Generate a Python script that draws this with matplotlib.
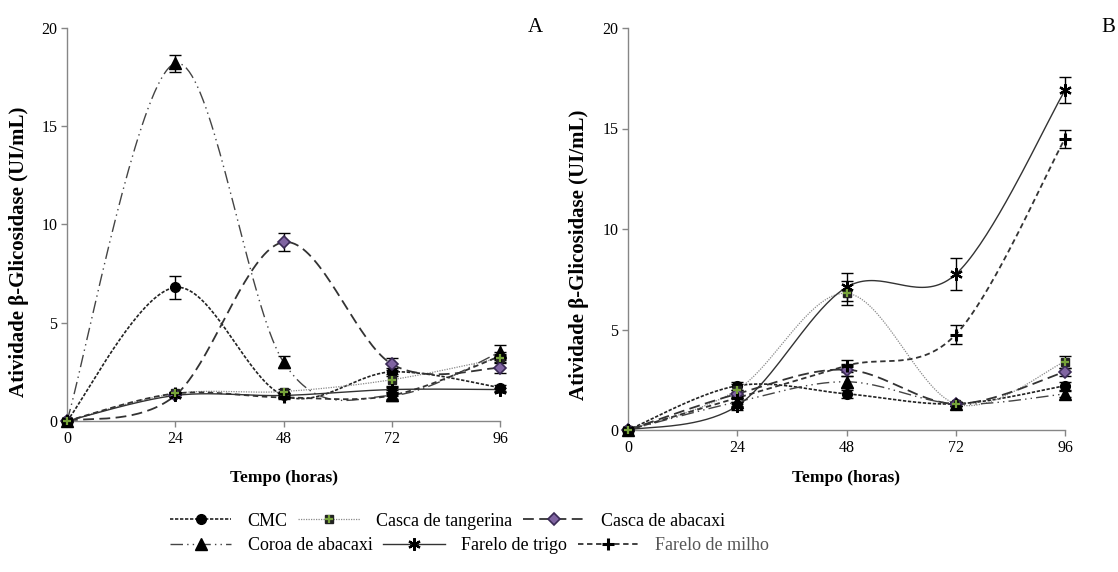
import numpy as np
import matplotlib
matplotlib.use("Agg")
import matplotlib.pyplot as plt
from matplotlib.lines import Line2D
from matplotlib.legend_handler import HandlerTuple

plt.rcParams["font.family"] = ["Liberation Serif", "DejaVu Serif"]

# DATA
hours = [0, 24, 48, 72, 96]
series_names = ["CMC", "Casca de tangerina", "Casca de abacaxi",
                "Coroa de abacaxi", "Farelo de trigo", "Farelo de milho"]

# panel A
a_cmc = [0.0, 6.8, 1.3, 2.5, 1.7]
a_tang = [0.0, 1.4, 1.5, 2.1, 3.2]
a_abac = [0.0, 1.3, 9.1, 2.9, 2.7]
a_coroa = [0.0, 18.2, 3.0, 1.3, 3.5]
a_trigo = [0.0, 1.3, 1.3, 1.6, 1.6]
a_milho = [0.0, 1.4, 1.2, 1.3, 3.3]

a_cmc_err = [0.0, 0.6, 0.15, 0.2, 0.15]
a_tang_err = [0.0, 0.1, 0.15, 0.3, 0.2]
a_abac_err = [0.0, 0.1, 0.45, 0.3, 0.25]
a_coroa_err = [0.0, 0.45, 0.3, 0.2, 0.35]
a_trigo_err = [0.0, 0.1, 0.1, 0.15, 0.1]
a_milho_err = [0.0, 0.1, 0.1, 0.3, 0.2]

# panel B
b_cmc = [0.0, 2.2, 1.8, 1.3, 2.2]
b_tang = [0.0, 2.0, 6.8, 1.3, 3.4]
b_abac = [0.0, 1.8, 3.0, 1.3, 2.9]
b_coroa = [0.0, 1.4, 2.4, 1.3, 1.8]
b_trigo = [0.0, 1.2, 7.1, 7.75, 16.9]
b_milho = [0.0, 1.6, 3.2, 4.75, 14.5]

b_cmc_err = [0.0, 0.2, 0.2, 0.1, 0.2]
b_tang_err = [0.0, 0.3, 0.6, 0.1, 0.3]
b_abac_err = [0.0, 0.2, 0.3, 0.1, 0.2]
b_coroa_err = [0.0, 0.2, 0.3, 0.1, 0.15]
b_trigo_err = [0.0, 0.2, 0.7, 0.8, 0.65]
b_milho_err = [0.0, 0.2, 0.3, 0.45, 0.45]

panel_a = [a_cmc, a_tang, a_abac, a_coroa, a_trigo, a_milho]
panel_a_err = [a_cmc_err, a_tang_err, a_abac_err, a_coroa_err, a_trigo_err, a_milho_err]
panel_b = [b_cmc, b_tang, b_abac, b_coroa, b_trigo, b_milho]
panel_b_err = [b_cmc_err, b_tang_err, b_abac_err, b_coroa_err, b_trigo_err, b_milho_err]

# STYLES
GREEN = "#77a33a"
PURPLE = "#8064a2"
line_styles = [
    dict(color="#222222", ls=(0, (2, 1)), lw=1.2),
    dict(color="#8a8a8a", ls=(0, (1, 1)), lw=0.9),
    dict(color="#333333", ls=(0, (6, 3)), lw=1.3),
    dict(color="#444444", ls=(0, (9, 3, 1, 3, 1, 3)), lw=1.0),
    dict(color="#333333", ls="-", lw=1.0),
    dict(color="#333333", ls=(0, (3, 2)), lw=1.3),
]
marker_styles = [
    dict(marker="o", ms=7, mfc="black", mec="black"),
    dict(marker="s", ms=6, mfc="#222222", mec="#222222"),
    dict(marker="D", ms=6, mfc=PURPLE, mec="#3a2a55", mew=1.2),
    dict(marker="^", ms=8, mfc="black", mec="black"),
    dict(marker=(6, 2, 0), ms=9, mfc="black", mec="black", mew=1.6),
    dict(marker="+", ms=9, mfc="black", mec="black", mew=2.2),
]
overlay_plus = dict(marker="+", ms=6, mec=GREEN, mew=1.6)


def smooth_curve(xs, ys, n=40):
    # spreadsheet style smoothed line (bezier through the points)
    px = np.asarray(xs, float)
    py = np.asarray(ys, float)
    m = len(px)
    out_x, out_y = [], []
    t = np.linspace(0, 1, n)
    for i in range(m - 1):
        i0 = max(i - 1, 0)
        i3 = min(i + 2, m - 1)
        c1x = px[i] + (px[i + 1] - px[i0]) / 6
        c1y = py[i] + (py[i + 1] - py[i0]) / 6
        c2x = px[i + 1] - (px[i3] - px[i]) / 6
        c2y = py[i + 1] - (py[i3] - py[i]) / 6
        bx = ((1 - t) ** 3 * px[i] + 3 * (1 - t) ** 2 * t * c1x
              + 3 * (1 - t) * t ** 2 * c2x + t ** 3 * px[i + 1])
        by = ((1 - t) ** 3 * py[i] + 3 * (1 - t) ** 2 * t * c1y
              + 3 * (1 - t) * t ** 2 * c2y + t ** 3 * py[i + 1])
        out_x.extend(bx)
        out_y.extend(by)
    return np.array(out_x), np.array(out_y)


def draw_panel(ax, values, errors):
    for k in range(len(values)):
        sx, sy = smooth_curve(hours, values[k])
        ax.plot(sx, sy, zorder=2, **line_styles[k])
        ax.errorbar(hours, values[k], yerr=errors[k], fmt="none",
                    ecolor="black", elinewidth=1.0, capsize=4, capthick=1.0,
                    zorder=3, clip_on=False)
        ax.plot(hours, values[k], ls="none", zorder=4, clip_on=False,
                **marker_styles[k])
        if k == 1:
            ax.plot(hours, values[k], ls="none", zorder=5, clip_on=False,
                    **overlay_plus)

    ax.set_xlim(0, 96)
    ax.set_ylim(0, 20)
    ax.set_xticks(hours)
    ax.set_yticks([0, 5, 10, 15, 20])
    for side in ["top", "right"]:
        ax.spines[side].set_visible(False)
    for side in ["left", "bottom"]:
        ax.spines[side].set_color("#868686")
        ax.spines[side].set_linewidth(1.0)
    ax.tick_params(direction="out", length=4, width=1.0, color="#868686",
                   labelsize=11.5, pad=3)
    ax.set_xlabel("Tempo (horas)", fontsize=12.5, fontweight="bold")
    ax.set_ylabel("Atividade β-Glicosidase (UI/mL)", fontsize=15,
                  fontweight="bold")


fig = plt.figure(figsize=(11.18, 5.72), dpi=100)
W, H = 1118.0, 572.0

ax_a = fig.add_axes([67 / W, 1 - 421 / H, 433 / W, 393 / H])
ax_b = fig.add_axes([628 / W, 1 - 430 / H, 437 / W, 402 / H])

draw_panel(ax_a, panel_a, panel_a_err)
draw_panel(ax_b, panel_b, panel_b_err)

ax_a.xaxis.set_label_coords(0.5, -0.125)
ax_b.xaxis.set_label_coords(0.5, -0.10)
ax_a.yaxis.set_label_coords(-0.088, 0.43)
ax_b.yaxis.set_label_coords(-0.09, 0.435)

fig.text(535 / W, 1 - 28 / H, "A", fontsize=15, ha="center", va="center")
fig.text(1108 / W, 1 - 28 / H, "B", fontsize=15, ha="center", va="center")

# legend handles
handles = []
for k in range(len(series_names)):
    h = Line2D([], [], **line_styles[k], **marker_styles[k])
    if k == 1:
        h = (h, Line2D([], [], ls="none", **overlay_plus))
    handles.append(h)

leg_kw = dict(frameon=False, ncol=3, fontsize=13, handlelength=3.4,
              handletextpad=0.9, columnspacing=0.6, borderpad=0,
              borderaxespad=0, loc="center left",
              handler_map={tuple: HandlerTuple(ndivide=1, pad=0)})
leg1 = fig.legend(handles[:3], series_names[:3],
                  bbox_to_anchor=(170 / W, 1 - 521 / H), **leg_kw)
leg2 = fig.legend(handles[3:], series_names[3:],
                  bbox_to_anchor=(170 / W, 1 - 546 / H), **leg_kw)
leg2.get_texts()[2].set_color("#555555")

fig.savefig("out.png", dpi=100)
